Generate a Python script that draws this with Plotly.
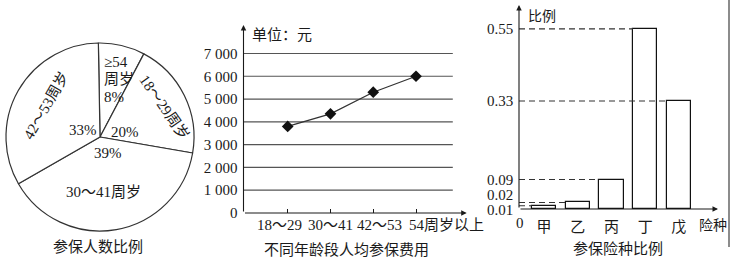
import plotly.graph_objects as go

W, H = 733, 261

# ---------------- data ----------------
pie_labels = ["≥54周岁", "18～29周岁", "30～41周岁", "42～53周岁"]
pie_values = [8, 20, 39, 33]
pie_title = "参保人数比例"

age_groups = ["18～29", "30～41", "42～53", "54周岁以上"]
avg_cost = [3800, 4350, 5300, 6000]
cost_ticks = [0, 1000, 2000, 3000, 4000, 5000, 6000, 7000]
cost_tick_text = ["0", "1 000", "2 000", "3 000", "4 000", "5 000", "6 000", "7 000"]
cost_unit = "单位：元"
line_title = "不同年龄段人均参保费用"

insurance_types = ["甲", "乙", "丙", "丁", "戊"]
insurance_share = [0.01, 0.02, 0.09, 0.55, 0.33]
share_labels = ["0.01", "0.02", "0.09", "0.55", "0.33"]
share_axis_name = "比例"
type_axis_name = "险种"
bar_title = "参保险种比例"

# ---------------- helpers / style ----------------
def px(x):
    return x / W

def py(y):
    return 1 - y / H

INK = "#1a1a1a"
LINE = "#333333"
FONT = "Liberation Serif, Noto Sans CJK SC, serif"
CJK = "Noto Sans CJK SC, sans-serif"
FS = 15


def paper_text(x, y, text, font=FONT, size=FS, angle=0, xanchor="center"):
    fig.add_annotation(x=px(x), y=py(y), xref="paper", yref="paper", text=text,
                       showarrow=False, textangle=angle, xanchor=xanchor,
                       yanchor="middle", font=dict(family=font, size=size, color=INK))


fig = go.Figure()

# ---------------- pie ----------------
fig.add_trace(go.Pie(
    labels=pie_labels, values=pie_values, sort=False, direction="clockwise",
    rotation=-1, textinfo="none", hoverinfo="skip", showlegend=False,
    marker=dict(colors=["white"] * 4, line=dict(color=LINE, width=1.2)),
    domain=dict(x=[px(6), px(194)], y=[py(231), py(43)]),
))

# label placement (style only): (x, y, angle)
pie_text_pos = [None, (164, 107, 55), (103, 192, 0), (46, 106, -60)]
pct_pos = [(102, 97, "left"), (125, 132, "center"), (108, 153, "center"), (83, 130, "center")]
for i, (lab, val) in enumerate(zip(pie_labels, pie_values)):
    if i == 0:
        head, tail = lab[:-2], lab[-2:]
        paper_text(102, 62, head, xanchor="left")
        paper_text(102, 79, tail, xanchor="left")
    else:
        x, y, ang = pie_text_pos[i]
        paper_text(x, y, lab, angle=ang)
    cx, cy, anc = pct_pos[i]
    paper_text(cx, cy, f"{val}%", xanchor=anc)

paper_text(98, 245, pie_title, font=CJK)

# ---------------- line chart ----------------
xs = list(range(len(age_groups)))
LX0, LX1, LGRID = -1.033, 4.185, 3.86
LY1 = 8250
fig.add_trace(go.Scatter(
    x=xs, y=avg_cost, mode="lines+markers", xaxis="x", yaxis="y",
    line=dict(color=LINE, width=1.2),
    marker=dict(symbol="diamond", size=9, color="#111"),
    hoverinfo="skip", showlegend=False,
))
for t in cost_ticks[1:]:
    fig.add_shape(type="line", xref="x", yref="y", x0=LX0, x1=LGRID, y0=t, y1=t,
                  line=dict(color="#555", width=1.2), layer="below")
fig.add_annotation(x=LX0, y=LY1, ax=LX0, ay=0, xref="x", yref="y", axref="x", ayref="y",
                   text="", showarrow=True, arrowhead=2, arrowsize=1, arrowwidth=1.1,
                   arrowcolor=INK)
fig.add_annotation(x=LX1, y=0, ax=LX0, ay=0, xref="x", yref="y", axref="x", ayref="y",
                   text="", showarrow=True, arrowhead=2, arrowsize=1, arrowwidth=1.1,
                   arrowcolor=INK)
fig.add_annotation(x=LX0, y=LY1, xref="x", yref="y", text=cost_unit, showarrow=False,
                   xanchor="left", yanchor="middle", xshift=6, yshift=-8,
                   font=dict(family=CJK, size=FS, color=INK))
label_xshift = [-8, 0, 6, -9]
for i, g in enumerate(age_groups):
    last = i == len(age_groups) - 1
    fig.add_annotation(x=i, y=0, xref="x", yref="y", text=g, showarrow=False,
                       xanchor="left" if last else "center", yanchor="middle",
                       xshift=label_xshift[i], yshift=-12,
                       font=dict(family=FONT, size=FS, color=INK))
paper_text(346, 248, line_title, font=CJK)

# ---------------- bar chart ----------------
bx = list(range(len(insurance_types)))
BW = 0.72
BX0, BX1 = -0.74, 5.16
BY1 = 0.623
fig.add_trace(go.Bar(
    x=bx, y=insurance_share, width=BW, xaxis="x2", yaxis="y2",
    marker=dict(color="white", line=dict(color="#111", width=1.2)),
    hoverinfo="skip", showlegend=False,
))
for i, v in enumerate(insurance_share):
    fig.add_shape(type="line", xref="x2", yref="y2", x0=BX0, x1=i - BW / 2, y0=v, y1=v,
                  line=dict(color="#333", width=1.1, dash="6px,4px"))
fig.add_annotation(x=BX0, y=BY1, ax=BX0, ay=0, xref="x2", yref="y2", axref="x2", ayref="y2",
                   text="", showarrow=True, arrowhead=2, arrowsize=1, arrowwidth=1.1,
                   arrowcolor=INK)
fig.add_annotation(x=BX1, y=0, ax=BX0, ay=0, xref="x2", yref="y2", axref="x2", ayref="y2",
                   text="", showarrow=True, arrowhead=2, arrowsize=1, arrowwidth=1.1,
                   arrowcolor=INK)
label_yshift = {0.01: -4, 0.02: 7}
for v, s in zip(insurance_share, share_labels):
    fig.add_annotation(x=BX0, y=v, xref="x2", yref="y2", text=s, showarrow=False,
                       xanchor="right", yanchor="middle", xshift=-4,
                       yshift=label_yshift.get(v, 0),
                       font=dict(family=FONT, size=FS, color=INK))
fig.add_annotation(x=BX0, y=0, xref="x2", yref="y2", text="0", showarrow=False,
                   xanchor="center", yanchor="middle", xshift=1, yshift=-14,
                   font=dict(family=FONT, size=FS, color=INK))
fig.add_annotation(x=BX0, y=BY1, xref="x2", yref="y2", text=share_axis_name, showarrow=False,
                   xanchor="left", yanchor="middle", xshift=7, yshift=-10,
                   font=dict(family=CJK, size=14, color=INK))
fig.add_annotation(x=BX1, y=0, xref="x2", yref="y2", text=type_axis_name, showarrow=False,
                   xanchor="center", yanchor="middle", xshift=-5, yshift=-15,
                   font=dict(family=CJK, size=14, color=INK))
paper_text(618, 247, bar_title, font=CJK)

# page border on right
fig.add_shape(type="line", xref="paper", yref="paper", x0=px(729), x1=px(729),
              y0=1, y1=py(247), line=dict(color="#666", width=1.5))

fig.update_layout(
    width=W, height=H, margin=dict(l=0, r=0, t=0, b=0, pad=0, autoexpand=False),
    paper_bgcolor="white", plot_bgcolor="rgba(0,0,0,0)",
    xaxis=dict(domain=[px(243.5), px(466.7)], range=[LX0, LX1], tickvals=xs,
               ticks="inside", ticklen=4, tickcolor=INK, showticklabels=False,
               showgrid=False, zeroline=False, showline=False, fixedrange=True,
               automargin=False),
    yaxis=dict(domain=[py(213), py(25)], range=[0, LY1], tickvals=cost_ticks,
               ticktext=cost_tick_text, ticks="", ticklabelstandoff=5,
               tickfont=dict(family=FONT, size=FS, color=INK),
               showgrid=False, zeroline=False, showline=False, fixedrange=True,
               automargin=False),
    xaxis2=dict(domain=[px(519), px(718)], range=[BX0, BX1], tickvals=bx,
                ticktext=insurance_types, ticks="", ticklabelstandoff=7,
                tickfont=dict(family=CJK, size=FS, color=INK), anchor="y2",
                showgrid=False, zeroline=False, showline=False, fixedrange=True,
                automargin=False),
    yaxis2=dict(domain=[py(209), py(5)], range=[0, BY1], anchor="x2",
                showticklabels=False, ticks="",
                showgrid=False, zeroline=False, showline=False, fixedrange=True,
                automargin=False),
    bargap=0,
)

fig.write_html("out.html")
